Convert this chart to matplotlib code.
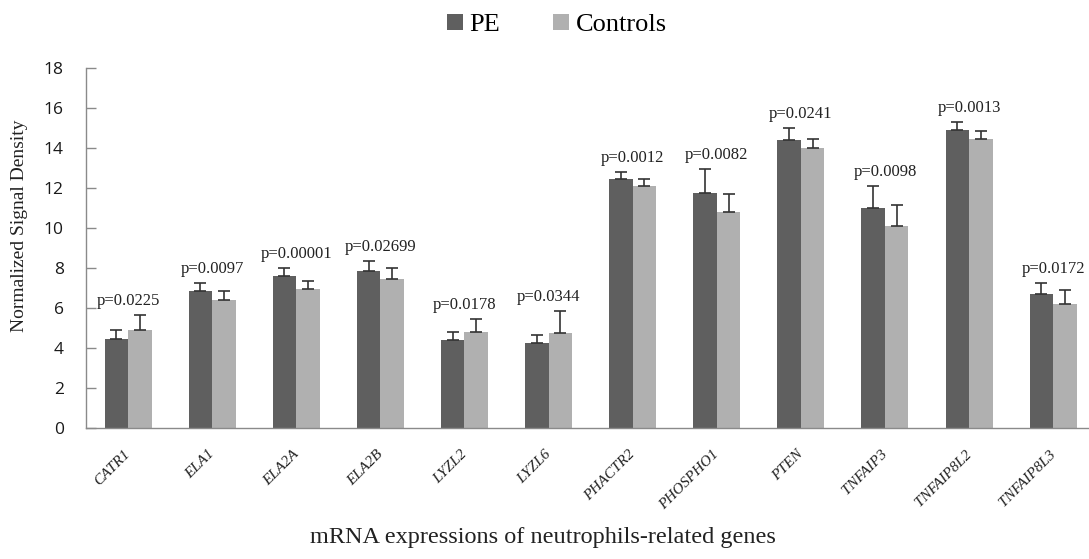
import matplotlib
matplotlib.use("Agg")
import matplotlib.pyplot as plt
import matplotlib.transforms as mtransforms
import numpy as np

genes = ["CATR1", "ELA1", "ELA2A", "ELA2B", "LYZL2", "LYZL6", "PHACTR2",
         "PHOSPHO1", "PTEN", "TNFAIP3", "TNFAIP8L2", "TNFAIP8L3"]
pe_mean = [4.45, 6.83, 7.62, 7.83, 4.40, 4.23, 12.47, 11.73, 14.40, 11.00, 14.88, 6.72]
pe_err = [0.45, 0.42, 0.38, 0.50, 0.40, 0.40, 0.31, 1.20, 0.58, 1.12, 0.40, 0.51]
ctrl_mean = [4.90, 6.40, 6.93, 7.47, 4.82, 4.77, 12.10, 10.78, 13.98, 10.12, 14.45, 6.18]
ctrl_err = [0.77, 0.47, 0.42, 0.53, 0.65, 1.06, 0.33, 0.94, 0.47, 1.03, 0.38, 0.72]
p_values = ["p=0.0225", "p=0.0097", "p=0.00001", "p=0.02699", "p=0.0178", "p=0.0344",
            "p=0.0012", "p=0.0082", "p=0.0241", "p=0.0098", "p=0.0013", "p=0.0172"]
y_ticks = [0, 2, 4, 6, 8, 10, 12, 14, 16, 18]

W, H = 1089, 559
fig = plt.figure(figsize=(W / 100, H / 100), dpi=100)
ax = fig.add_axes([86 / W, 131 / H, (W - 86) / W, 360 / H])

x = np.arange(len(genes))
bw = 0.28
pe_color = "#5f5f5f"
ctrl_color = "#b0b0b0"
ax.bar(x - bw / 2, pe_mean, bw, color=pe_color, label="PE", zorder=2)
ax.bar(x + bw / 2, ctrl_mean, bw, color=ctrl_color, label="Controls", zorder=2)
ekw = dict(fmt="none", ecolor="#333333", elinewidth=1.2, capsize=4, capthick=1.2, zorder=3)
ax.errorbar(x - bw / 2, pe_mean, yerr=[np.zeros(len(x)), pe_err], **ekw)
ax.errorbar(x + bw / 2, ctrl_mean, yerr=[np.zeros(len(x)), ctrl_err], **ekw)

serif = ["Liberation Serif", "DejaVu Serif"]
for i in range(len(genes)):
    top = max(pe_mean[i] + pe_err[i], ctrl_mean[i] + ctrl_err[i])
    ax.text(x[i], top + 0.3, p_values[i], ha="center", va="bottom",
            fontsize=12, family=serif, color="#222222", clip_on=False)

ax.set_xlim(-0.5, -0.5 + (W - 86) / 84.1)
ax.set_ylim(0, 18)
ax.set_yticks(y_ticks)
ax.tick_params(axis="y", direction="in", length=7, width=1, color="#8a8a8a",
               pad=16, labelsize=12.5, labelcolor="#1a1a1a")
for lab in ax.get_yticklabels():
    lab.set_family(["Open Sans", "DejaVu Sans"])
ax.set_xticks(x)
ax.set_xticklabels(genes, rotation=45, ha="right", va="top", fontsize=11,
                   family=serif, style="italic", color="#222222")
ax.tick_params(axis="x", length=0, pad=14)
offset = mtransforms.ScaledTranslation(5 / 100, 0, fig.dpi_scale_trans)
for lab in ax.get_xticklabels():
    lab.set_transform(lab.get_transform() + offset)

for s in ["top", "right"]:
    ax.spines[s].set_visible(False)
for s in ["left", "bottom"]:
    ax.spines[s].set_color("#8a8a8a")
    ax.spines[s].set_linewidth(1)

fig.text(20 / W, 1 - 226 / H, "Normalized Signal Density", rotation=90,
         ha="center", va="center", family=serif, fontsize=14, color="#222222")
fig.text(543 / W, 1 - 537 / H, "mRNA expressions of neutrophils-related genes",
         ha="center", va="center", family=serif, fontsize=17.5, color="#222222")

fig.legend(loc="center", bbox_to_anchor=(557 / W, 1 - 25 / H), ncol=2, frameon=False,
           prop={"family": serif, "size": 19}, handlelength=0.6, handleheight=0.6,
           handletextpad=0.25, columnspacing=2.0)

fig.savefig("out.png", dpi=100)
